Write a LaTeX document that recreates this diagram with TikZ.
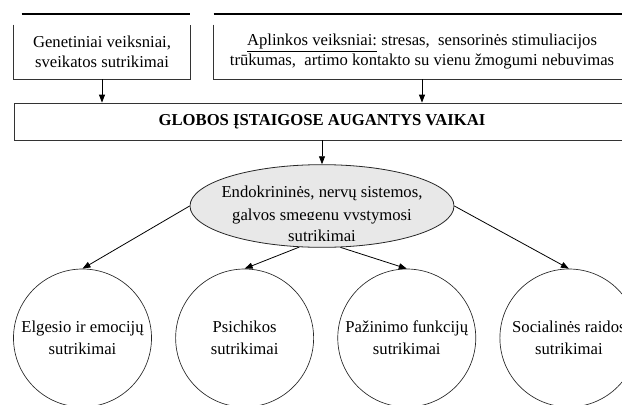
\documentclass[tikz,border=0pt]{standalone}
\usepackage{fontspec}
\setmainfont{Liberation Serif}
\usetikzlibrary{arrows.meta,shapes.geometric,positioning}

\begin{document}
\begin{tikzpicture}[x=0.75pt, y=-0.75pt,
  every node/.style = {font=\fontsize{12.5}{15}\selectfont, align=center},
  factorbox/.style = {rectangle, minimum height=40.5pt, inner sep=0pt},
  mainbox/.style = {rectangle, draw=black!80, line width=0.6pt,
    minimum width=462pt, minimum height=27.75pt},
  cause/.style = {ellipse, draw=black!85, fill=gray!18, line width=0.6pt,
    minimum width=198pt, minimum height=62pt, inner sep=0pt},
  outcome/.style = {circle, draw=black!85, line width=0.5pt,
    minimum size=103.5pt, inner sep=0pt,
    font=\fontsize{12.5}{16.5}\selectfont},
  arr/.style = {-{Triangle[length=6pt,width=4.5pt]}, line width=0.6pt}]

  \useasboundingbox (0,0) rectangle (622,404);
  \clip (0,0) rectangle (622,404);

  % priezastys
  \node[factorbox, minimum width=132pt] (genetic) at (102,52)
    {Genetiniai veiksniai,\\ sveikatos sutrikimai};
  \node[factorbox, minimum width=312pt] (environ) at (422,52)
    {\underline{Aplinkos veiksniai:} stresas,\ \ sensorinės stimuliacijos\\
     trūkumas,\ \ artimo kontakto su vienu žmogumi nebuvimas};
  \foreach \b in {genetic, environ} {
    \draw[black!80, line width=0.6pt] (\b.north west) -- (\b.south west)
      -- (\b.south east) -- (\b.north east);
  }
  \draw[line width=1.5pt] ([xshift=6pt,yshift=8.25pt]genetic.north west)
    -- ([yshift=8.25pt]genetic.north east);
  \draw[line width=1.5pt] ([yshift=8.25pt]environ.north west)
    -- ([yshift=8.25pt]environ.north east);

  \node[mainbox] (children) at (322,121.5)
    {\textbf{GLOBOS ĮSTAIGOSE AUGANTYS VAIKAI}};

  \draw[arr] (genetic.south) -- (genetic.south |- children.north);
  \draw[arr] (environ.south) -- (environ.south |- children.north);

  % pazeidimai
  \node[cause] (disorder) at (322,206) {};
  \node[font=\fontsize{12.5}{17}\selectfont] (disordertext) at (322,205)
    {Endokrininės, nervų sistemos,\\ galvos smegenų vystymosi};
  \node[fill=gray!18, inner xsep=2pt, inner ysep=2pt, text height=13.5pt,
    text depth=0pt, anchor=base] (disorderend) at (322,241) {sutrikimai};
  \draw[arr] (children.south) -- (disorder.north);

  % pasekmes
  \node[outcome] (behav) at (82.5,338) {Elgesio ir emocijų\\ sutrikimai};
  \node[outcome, right=17.6pt of behav] (psych) {Psichikos\\ sutrikimai};
  \node[outcome, right=17.6pt of psych] (cogn) {Pažinimo funkcijų\\ sutrikimai};
  \node[outcome, right=17.6pt of cogn] (social) {Socialinės raidos\\ sutrikimai};

  \draw[arr] (disorder.west) -- (behav.north);
  \draw[arr] (disorder.241) -- (psych.north);
  \draw[arr] (disorder.294) -- (cogn.north);
  \draw[arr] (disorder.east) -- (social.north);
\end{tikzpicture}
\end{document}
